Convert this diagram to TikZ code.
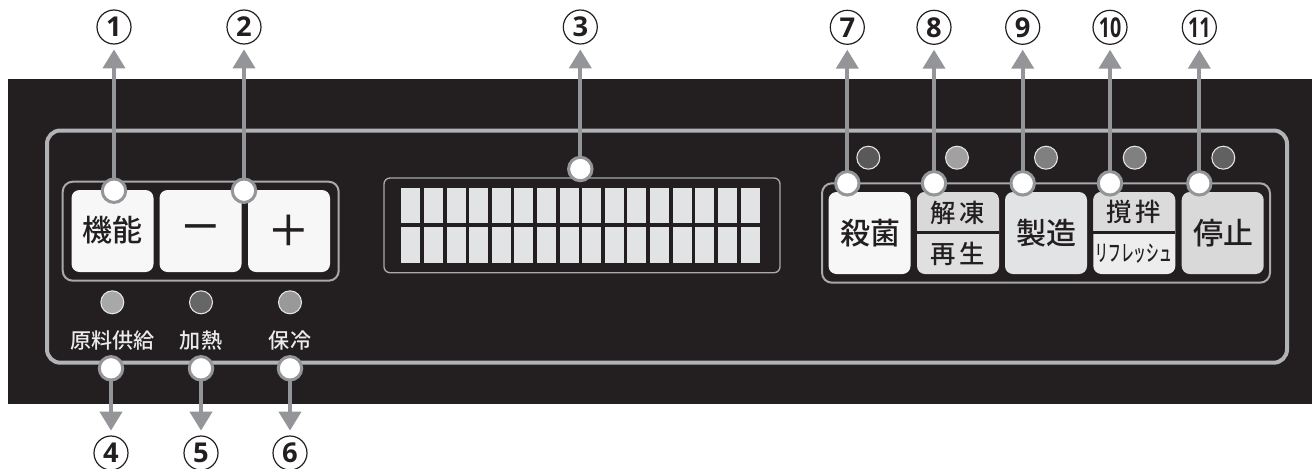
\documentclass[tikz,border=0pt]{standalone}
\usepackage{fontspec}
\usepackage{graphicx}
\usetikzlibrary{arrows.meta}
\setmainfont{Noto Sans CJK JP Medium}
\newfontfamily\numfont{Open Sans}
\definecolor{panelbg}{HTML}{231F20}
\definecolor{framegray}{HTML}{B1B3B6}
\definecolor{groupgray}{HTML}{A7A9AC}
\definecolor{conn}{HTML}{939598}
\definecolor{inkdark}{HTML}{231F20}
\definecolor{cellgray}{HTML}{E2E3E4}
\tikzset{
  x=0.75pt,y=-0.75pt,
  panelkey/.style={rounded corners=6pt,fill=#1,minimum width=61.5pt,minimum height=61.5pt,inner sep=0pt,outer sep=0pt},
  keytext/.style={inner sep=0pt,text=inkdark,font=\fontsize{22.5}{24}\selectfont},
  halftext/.style={inner sep=0pt,text=inkdark,font=\fontsize{19}{21}\selectfont},
  ledmark/.style={circle,fill=#1,draw=white!90!black,line width=0.8pt,minimum size=17.2pt,inner sep=0pt},
  ledtext/.style={inner sep=0pt,text=white!92!black,font=\fontsize{15.8}{18}\selectfont},
  dotmark/.style={circle,fill=white,draw=conn,line width=2.25pt,minimum size=17.6pt,inner sep=0pt,outer sep=0pt},
  numcirc/.style={circle,draw=inkdark,line width=0.9pt,minimum size=25.5pt,inner sep=0pt,text=inkdark,font=\numfont\bfseries\fontsize{20.5}{21}\selectfont},
  leader/.style={draw=conn,line width=3pt,-{Triangle[length=14.25pt,width=16.5pt]},shorten >=3.6pt},
  groupframe/.style={draw=groupgray,line width=1.5pt,rounded corners=7.5pt},
  cellbox/.style={fill=cellgray}
}
\begin{document}
\begin{tikzpicture}
\useasboundingbox (0,0) rectangle (1312,468);
% panel
\fill[panelbg] (8,79) rectangle (1312,404);
\draw[framegray,line width=3pt,rounded corners=10pt] (47,130.5) rectangle (1287,362.7);
% groups
\draw[groupframe] (62.7,181.7) rectangle (338.7,280.7);
\draw[groupframe] (822,183.3) rectangle (1270,282.7);
\draw[groupgray,line width=1pt,rounded corners=4.5pt] (384,178) rectangle (780,272.7);
% lcd cells
\foreach \cx in {401,424,447,469,492,514,537,560,582,605,627,650,673,695,718,741}{
  \fill[cellbox] (\cx,188) rectangle ++(19,34.7);
  \fill[cellbox] (\cx,227) rectangle ++(19,36);
}
% left keys
\node[panelkey=white!97!black] (keya) at (112.5,231) {};
\node[panelkey=white!97!black] (keyb) at (200.5,231) {};
\node[panelkey=white!97!black] (keyc) at (289,231) {};
\node[keytext] (kta) at (112.5,230.5) {機能};
\node[keytext,font=\fontsize{32}{34}\selectfont] (ktb) at (200.5,234) {－};
\node[keytext,font=\fontsize{32}{34}\selectfont] (ktc) at (289,231) {＋};
% right keys
\node[panelkey=white!97!black] (keyd) at (869.5,233) {};
\node[panelkey=cellgray] (keyf) at (1046,233) {};
\node[panelkey=black!15] (keyh) at (1222.7,233) {};
\node[panelkey=black!12] (keye) at (958,233) {};
\node[panelkey=white!93!black] (keyg) at (1134.3,233) {};
\begin{scope}
  \clip[rounded corners=6pt] (917,192) rectangle (999,274);
  \fill[black!15] (917,192) rectangle (999,232.7);
\end{scope}
\begin{scope}
  \clip[rounded corners=6pt] (1093.3,192) rectangle (1175.3,274);
  \fill[black!14] (1093.3,192) rectangle (1175.3,232.7);
\end{scope}
\draw[panelbg,line width=2pt] (keye.west |- 0,232.7) -- (keye.east |- 0,232.7);
\draw[panelbg,line width=2pt] (keyg.west |- 0,232.7) -- (keyg.east |- 0,232.7);
\node[keytext] (ktd) at (870,233) {殺菌};
\node[halftext] (kte) at (957.7,212.7) {解\hspace{3pt}凍};
\node[halftext] (kti) at (957.7,254) {再\hspace{3pt}生};
\node[keytext] (ktf) at (1046,233) {製造};
\node[halftext] (ktg) at (1134,212) {撹\hspace{3pt}拌};
\node[halftext,font=\fontsize{17}{19}\selectfont] (ktj) at (1133.7,254) {\scalebox{0.56}[1]{リフレッシュ}};
\node[keytext] (kth) at (1223,233) {停止};
% leds
\node[ledmark=black!34] (leda) at (112.3,302.3) {};
\node[ledmark=black!60] (ledb) at (201,302.3) {};
\node[ledmark=black!40] (ledc) at (290,302.3) {};
\node[ledmark=black!65] (ledd) at (868.3,157.7) {};
\node[ledmark=black!37] (lede) at (957,157.7) {};
\node[ledmark=black!50] (ledf) at (1046,157.7) {};
\node[ledmark=black!50] (ledg) at (1134.7,157.7) {};
\node[ledmark=black!62] (ledh) at (1223.3,157.7) {};
\node[ledtext] (lta) at (112.3,341) {原料供給};
\node[ledtext] (ltb) at (201,341) {加熱};
\node[ledtext] (ltc) at (290,341) {保冷};
% number labels
\node[numcirc] (n1) at (114,27) {1};
\node[numcirc] (n2) at (244,27) {2};
\node[numcirc] (n3) at (580.3,27) {3};
\node[numcirc] (n4) at (111,453) {4};
\node[numcirc] (n5) at (201,453) {5};
\node[numcirc] (n6) at (290,453) {6};
\node[numcirc] (n7) at (847.3,27.3) {7};
\node[numcirc] (n8) at (934,27.3) {8};
\node[numcirc] (n9) at (1022.7,27.3) {9};
\node[numcirc] (n10) at (1110,27.3) {\scalebox{0.72}[1]{10}};
\node[numcirc] (n11) at (1199.3,27.3) {\scalebox{0.72}[1]{11}};
% dots
\node[dotmark] (d1) at (114,190.7) {};
\node[dotmark] (d2) at (244,190.7) {};
\node[dotmark] (d3) at (580.3,169) {};
\node[dotmark] (d4) at (111,368.3) {};
\node[dotmark] (d5) at (201,368.3) {};
\node[dotmark] (d6) at (290,368.3) {};
\node[dotmark] (d7) at (847.3,183.3) {};
\node[dotmark] (d8) at (934,183.3) {};
\node[dotmark] (d9) at (1022.7,183.3) {};
\node[dotmark] (d10) at (1110,183.3) {};
\node[dotmark] (d11) at (1199.3,183.3) {};
% leaders
\foreach \k in {1,...,11}{
  \draw[leader] (d\k) -- (n\k);
}
\end{tikzpicture}
\end{document}
